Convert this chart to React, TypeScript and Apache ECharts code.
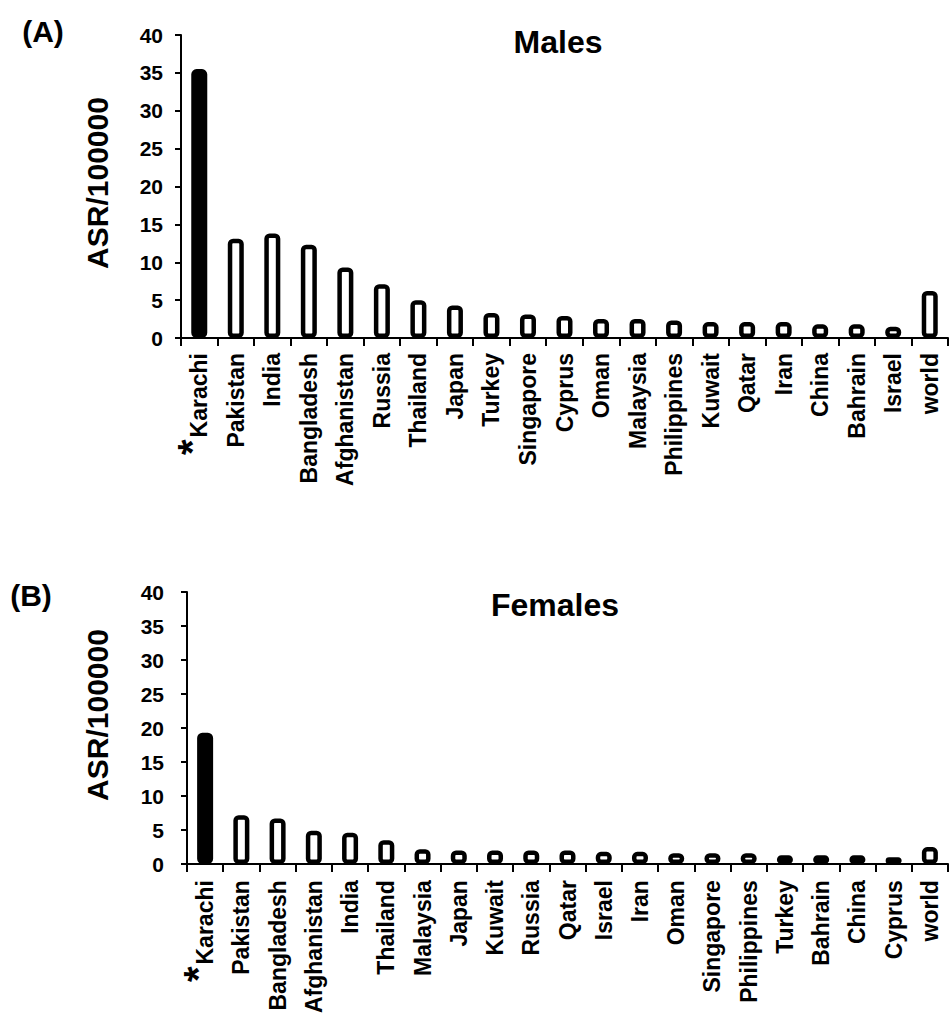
import React, { useEffect, useRef } from "react";
import * as echarts from "echarts";

const maleCategories = ["Karachi", "Pakistan", "India", "Bangladesh", "Afghanistan", "Russia", "Thailand", "Japan", "Turkey", "Singapore", "Cyprus", "Oman", "Malaysia", "Philippines", "Kuwait", "Qatar", "Iran", "China", "Bahrain", "Israel", "world"];
const maleValues = [35.5, 13.1, 13.8, 12.3, 9.3, 7.1, 5.0, 4.3, 3.3, 3.1, 2.9, 2.5, 2.5, 2.3, 2.1, 2.1, 2.1, 1.8, 1.8, 1.5, 6.2];

const femaleCategories = ["Karachi", "Pakistan", "Bangladesh", "Afghanistan", "India", "Thailand", "Malaysia", "Japan", "Kuwait", "Russia", "Qatar", "Israel", "Iran", "Oman", "Singapore", "Philippines", "Turkey", "Bahrain", "China", "Cyprus", "world"];
const femaleValues = [19.3, 7.2, 6.7, 4.9, 4.6, 3.5, 2.2, 2.0, 2.0, 2.0, 2.0, 1.8, 1.8, 1.6, 1.6, 1.6, 1.3, 1.3, 1.3, 1.0, 2.5];

const highlighted = "Karachi";
const yTicks = { min: 0, max: 40, interval: 5 };
const yAxisName = "ASR/100000";
const panelTitles = ["Males", "Females"];
const panelLetters = ["(A)", "(B)"];

const FONT = "Liberation Sans, Arial, sans-serif";

export default function App() {
  const ref = useRef<HTMLDivElement>(null);
  useEffect(() => {
    document.body.style.margin = "0";
    const chart = echarts.init(ref.current!, null, { renderer: "svg" });
    const grids = [
      { left: 181, top: 35, width: 767, height: 303 },
      { left: 187, top: 592, width: 761, height: 276 },
    ];
    const labelMargins = [15, 16];
    const yLabelMargins = [18, 23];
    const cats = [maleCategories, femaleCategories];
    const vals = [maleValues, femaleValues];
    const xAxes = cats.map((c, gi) => ({
      type: "category",
      gridIndex: gi,
      data: c,
      axisLine: { lineStyle: { color: "#000", width: 2 } },
      axisTick: { show: true, length: 8, lineStyle: { color: "#000", width: 2 } },
      axisLabel: {
        rotate: 90,
        interval: 0,
        margin: labelMargins[gi],
        color: "#000",
        fontFamily: FONT,
        fontWeight: "bold",
        fontSize: 23,
        formatter: (v: string) => (v === highlighted ? "{star|*}{hl|" + v + "}" : v),
        rich: {
          star: { fontSize: 40, fontWeight: "bold", fontFamily: FONT, color: "#000", padding: [0, 2, 14, 0] },
          hl: { fontSize: 23, fontWeight: "bold", fontFamily: FONT, color: "#000", padding: [0, 0, 0, 0] },
        },
      },
    }));
    const yAxes = cats.map((_, gi) => ({
      type: "value",
      gridIndex: gi,
      min: yTicks.min,
      max: yTicks.max,
      interval: yTicks.interval,
      splitLine: { show: false },
      axisLine: { show: true, lineStyle: { color: "#000", width: 2 } },
      axisTick: { show: true, length: 6, lineStyle: { color: "#000", width: 2 } },
      axisLabel: { color: "#000", fontFamily: FONT, fontWeight: "bold", fontSize: 21, margin: yLabelMargins[gi] },
    }));
    const series = vals.map((v, gi) => ({
      type: "bar",
      xAxisIndex: gi,
      yAxisIndex: gi,
      barWidth: 16,
      data: v.map((val, i) => ({
        value: val,
        itemStyle:
          cats[gi][i] === highlighted
            ? { color: "#000", borderColor: "#000", borderWidth: 4.5, borderRadius: 3 }
            : { color: "#fff", borderColor: "#000", borderWidth: 4.5, borderRadius: 3 },
      })),
    }));
    const textEl = (x: number, y: number, text: string, size: number, rotation = 0) => ({
      type: "text",
      x,
      y,
      rotation,
      style: {
        text,
        fill: "#000",
        font: `bold ${size}px ${FONT}`,
        textAlign: "center",
        textVerticalAlign: "middle",
        align: "center",
        verticalAlign: "middle",
      },
    });
    chart.setOption({
      animation: false,
      backgroundColor: "#fff",
      grid: grids,
      xAxis: xAxes,
      yAxis: yAxes,
      series,
      graphic: [
        textEl(558, 42, panelTitles[0], 32),
        textEl(555, 605, panelTitles[1], 32),
        textEl(43, 31, panelLetters[0], 30),
        textEl(31, 595, panelLetters[1], 30),
        textEl(97, 183, yAxisName, 30, Math.PI / 2),
        textEl(97, 715, yAxisName, 30, Math.PI / 2),
      ],
    });
    return () => chart.dispose();
  }, []);
  return <div ref={ref} style={{ position: "absolute", left: 0, top: 0, width: 950, height: 1016 }} />;
}
